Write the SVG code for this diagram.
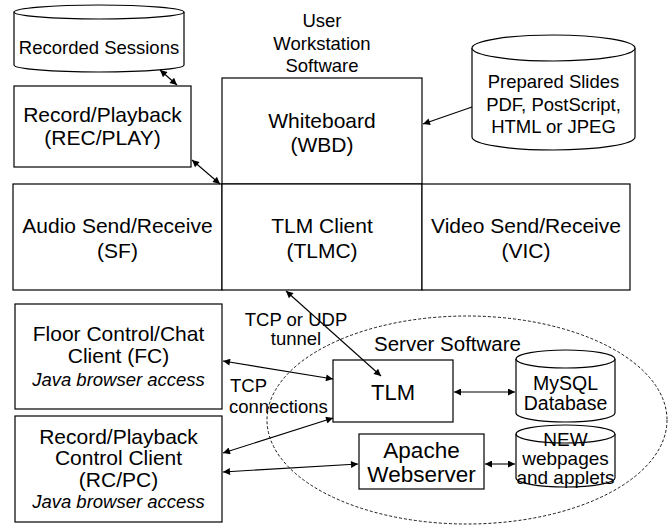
<svg xmlns="http://www.w3.org/2000/svg" width="671" height="525" viewBox="0 0 671 525">
<defs>
<marker id="ah" viewBox="0 0 10 10" refX="10" refY="5" markerWidth="9" markerHeight="7" markerUnits="userSpaceOnUse" orient="auto-start-reverse">
<path d="M0,0 L10,5 L0,10 z" fill="#000"/>
</marker>
<style>
.b{fill:#fff;stroke:#000;stroke-width:1.2}
.t{font-family:"Liberation Sans",Arial,sans-serif;font-size:21px;fill:#000;text-anchor:middle}
.s{font-size:18.5px}
.i{font-style:italic;font-size:18.5px}
.c{fill:none;stroke:#000;stroke-width:1.1}
.l{text-anchor:start}
</style>
</defs>
<rect width="671" height="525" fill="#fff"/>
<g id="server-area">
<ellipse cx="467" cy="420" rx="200" ry="104" fill="none" stroke="#000" stroke-width="0.9" stroke-dasharray="3,2"/>
<text class="t l" x="374" y="351" style="font-size:20.5px">Server Software</text>
</g>
<g id="user-label">
<text class="t s" x="322" y="27">User</text>
<text class="t s" x="322" y="50">Workstation</text>
<text class="t s" x="322" y="72">Software</text>
</g>
<g id="recorded-sessions">
<path class="b" d="M14,12 L14,65 A85,7 0 0 0 184,65 L184,12"/>
<ellipse class="b" cx="99" cy="12" rx="85" ry="7"/>
<text class="t s" x="99" y="54">Recorded Sessions</text>
</g>
<g id="rec-play">
<rect class="b" x="14" y="86" width="177" height="81"/>
<text class="t" x="102.5" y="122">Record/Playback</text>
<text class="t" x="102.5" y="145">(REC/PLAY)</text>
</g>
<g id="whiteboard">
<rect class="b" x="222" y="78" width="200" height="106"/>
<text class="t" x="322" y="128">Whiteboard</text>
<text class="t" x="322" y="152">(WBD)</text>
</g>
<g id="prepared-slides">
<path class="b" d="M472,48 L472,137 A81.5,13 0 0 0 635,137 L635,48"/>
<ellipse class="b" cx="553.5" cy="48" rx="81.5" ry="13"/>
<text class="t s" x="553.5" y="88">Prepared Slides</text>
<text class="t s" x="553.5" y="111">PDF, PostScript,</text>
<text class="t s" x="553.5" y="133">HTML or JPEG</text>
</g>
<g id="audio">
<rect class="b" x="13" y="184" width="209" height="106"/>
<text class="t" x="117.5" y="233">Audio Send/Receive</text>
<text class="t" x="117.5" y="258">(SF)</text>
</g>
<g id="tlmc">
<rect class="b" x="222" y="184" width="200" height="106"/>
<text class="t" x="322" y="233">TLM Client</text>
<text class="t" x="322" y="258">(TLMC)</text>
</g>
<g id="video">
<rect class="b" x="422" y="184" width="208" height="106"/>
<text class="t" x="526" y="233">Video Send/Receive</text>
<text class="t" x="526" y="258">(VIC)</text>
</g>
<g id="fc">
<rect class="b" x="15" y="304" width="207" height="105"/>
<text class="t" x="118.5" y="341">Floor Control/Chat</text>
<text class="t" x="118.5" y="363">Client (FC)</text>
<text class="t i" x="118.5" y="386">Java browser access</text>
</g>
<g id="rcpc">
<rect class="b" x="15" y="416" width="207" height="106"/>
<text class="t" x="118.5" y="444">Record/Playback</text>
<text class="t" x="118.5" y="465">Control Client</text>
<text class="t" x="118.5" y="487">(RC/PC)</text>
<text class="t i" x="118.5" y="508">Java browser access</text>
</g>
<g id="tlm">
<rect class="b" x="333" y="360" width="120" height="62"/>
<text class="t" x="393" y="400" style="font-size:22px">TLM</text>
</g>
<g id="mysql">
<path class="b" d="M516,359 L516,413 A49.5,9 0 0 0 615,413 L615,359"/>
<ellipse class="b" cx="565.5" cy="359" rx="49.5" ry="9"/>
<text class="t" x="565.5" y="390" style="font-size:19.5px">MySQL</text>
<text class="t" x="565.5" y="410" style="font-size:19.5px">Database</text>
</g>
<g id="apache">
<rect class="b" x="359" y="434" width="125" height="55"/>
<text class="t" x="421.5" y="458" style="font-size:22.5px">Apache</text>
<text class="t" x="421.5" y="482" style="font-size:22.5px">Webserver</text>
</g>
<g id="webpages">
<path class="b" d="M516,434 L516,478 A49.5,9 0 0 0 615,478 L615,434"/>
<ellipse class="b" cx="565.5" cy="434" rx="49.5" ry="9"/>
<text class="t" x="565.5" y="446" style="font-size:19px">NEW</text>
<text class="t" x="565.5" y="465" style="font-size:19px">webpages</text>
<text class="t" x="565.5" y="484" style="font-size:19px">and applets</text>
</g>
<g id="connectors">
<line class="c" x1="160" y1="70" x2="177" y2="85" marker-start="url(#ah)" marker-end="url(#ah)"/>
<line class="c" x1="192" y1="160" x2="220" y2="184" marker-start="url(#ah)" marker-end="url(#ah)"/>
<line class="c" x1="472" y1="107" x2="423" y2="124" marker-end="url(#ah)"/>
<line class="c" x1="286" y1="291" x2="381" y2="376" marker-start="url(#ah)" marker-end="url(#ah)"/>
<line class="c" x1="223" y1="361" x2="333" y2="379" marker-start="url(#ah)" marker-end="url(#ah)"/>
<line class="c" x1="223" y1="453" x2="333" y2="418" marker-start="url(#ah)" marker-end="url(#ah)"/>
<line class="c" x1="223" y1="472" x2="358" y2="464" marker-start="url(#ah)" marker-end="url(#ah)"/>
<line class="c" x1="454" y1="392" x2="515" y2="392" marker-start="url(#ah)" marker-end="url(#ah)"/>
<line class="c" x1="485" y1="464" x2="515" y2="464" marker-start="url(#ah)" marker-end="url(#ah)"/>
</g>
<g id="labels">
<text class="t s" x="296" y="326">TCP or UDP</text>
<text class="t s" x="296" y="345">tunnel</text>
<text class="t s l" x="230" y="392">TCP</text>
<text class="t s l" x="229" y="413">connections</text>
</g>
</svg>
